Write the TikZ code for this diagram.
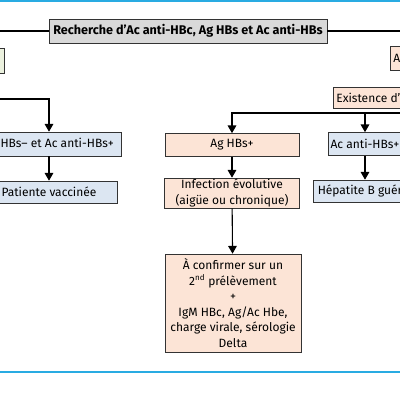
\documentclass[tikz,border=0pt]{standalone}
\usepackage{fontspec}
\setmainfont{Fira Sans}
\usetikzlibrary{arrows}
\definecolor{peche}{HTML}{FCE4D6}
\definecolor{ciel}{HTML}{DCE6F2}
\definecolor{grise}{HTML}{D9D9D9}
\definecolor{vertpale}{HTML}{EBF1DE}
\definecolor{bleu}{HTML}{29ABE2}

\begin{document}
\begin{tikzpicture}[x=1pt, y=-1pt, >=triangle 60]
\tikzset{ box/.style={draw=black!80, line width=0.7pt, align=center, inner sep=1pt,
                      font=\fontsize{12}{15.5}\selectfont},
          rose/.style={box, fill=peche},
          bleue/.style={box, fill=ciel},
          fleche/.style={line width=1.1pt} };

\useasboundingbox (0,0) rectangle (400,400);
\clip (0,0) rectangle (400,400);

% filets bleus
\draw[bleu, line width=2pt] (0,1) -- (400,1);
\draw[bleu, line width=2pt] (0,372) -- (400,372);

\node[box, fill=grise, minimum width=278, minimum height=24,
      font=\fontsize{12.6}{14}\selectfont\bfseries] (T) at (188,31)
      {Recherche d'Ac anti-HBc, Ag HBs et Ac anti-HBs};

\node[box, fill=vertpale, minimum width=60, minimum height=25] (L0) at (-26,60.5) {};
\node[rose, minimum height=24, inner xsep=3pt, anchor=west] (R0) at (390,58) {Ac anti-HBc+};
\node[rose, minimum height=21, inner xsep=3pt, anchor=west] (Ex) at (333,97.5)
      {Existence d'Ac anti-HBc};

\node[bleue, minimum width=144, minimum height=24] (L1) at (49,144) {Ag HBs– et Ac anti-HBs+};
\node[bleue, minimum width=136, minimum height=22] (L2) at (49,192) {Patiente vaccinée};

\node[rose, minimum width=134, minimum height=23] (M1) at (232,145) {Ag HBs+};
\node[rose, minimum width=135, minimum height=30] (M2) at (232,193)
      {Infection évolutive\\(aigüe ou chronique)};
\node[rose, minimum width=136, minimum height=98] (M3) at (233,303)
      {À confirmer sur un\\2\textsuperscript{nd} prélèvement\\+\\IgM HBc, Ag/Ac Hbe,\\charge virale, sérologie\\Delta};

\node[bleue, minimum width=74, minimum height=23] (R1) at (365,144) {Ac anti-HBs+};
\node[bleue, minimum width=104, minimum height=22] (R2) at (365,191) {Hépatite B guérie};

\coordinate (LK) at (49,99);
\coordinate (EK) at (430,113);

\draw[fleche] (T.west) -| (L0.north);
\draw[fleche] (T.east) -| (R0.north);
\draw[fleche, ->] (L0.south) |- (LK) -- (L1.north);
\draw[fleche, ->] (L1) -- (L2);
\draw[fleche] (Ex.south -| EK) -- (EK);
\draw[fleche, ->] (EK) -| (M1.north);
\draw[fleche, ->] (EK) -| (R1.north);
\draw[fleche, ->] (M1) -- (M2);
\draw[fleche, ->] (M2) -- (M3);
\draw[fleche, ->] (R1) -- (R2);

\end{tikzpicture}
\end{document}
